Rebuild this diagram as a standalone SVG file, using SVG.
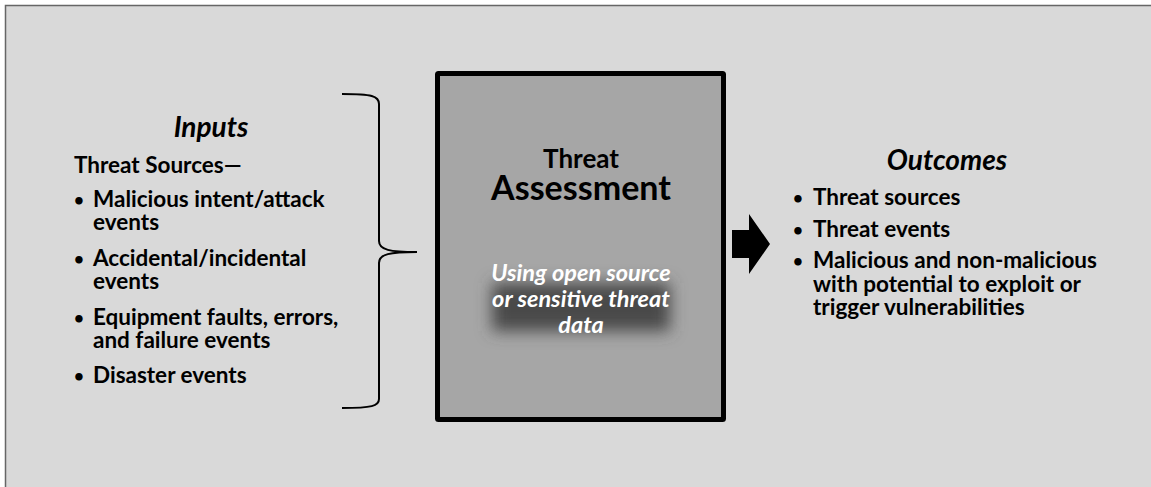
<svg xmlns="http://www.w3.org/2000/svg" width="1151" height="487" viewBox="0 0 1151 487">
  <style>
    text { font-family: Lato, "Liberation Sans", sans-serif; font-weight: bold; fill: #000; }
    .head { font-size: 28px; font-style: italic; text-anchor: middle; }
    .item { font-size: 22.5px; }
    .dot { font-size: 17px; }
    .title { text-anchor: middle; }
    .note { font-size: 23.5px; font-style: italic; fill: #fff; text-anchor: middle; }
    .brace { fill: none; stroke: #000; stroke-width: 2; }
  </style>
  <defs>
    <filter id="glow" x="-30%" y="-60%" width="160%" height="220%">
      <feGaussianBlur stdDeviation="8"/>
    </filter>
  </defs>

  <!-- page background -->
  <rect x="0" y="0" width="1151" height="487" fill="#fff"/>
  <rect x="5.5" y="5.5" width="1160" height="500" fill="#d9d9d9" stroke="#666" stroke-width="1.5"/>

  <!-- inputs list -->
  <g id="inputs">
    <text class="head" x="211" y="137">Inputs</text>
    <text class="item" x="74" y="173">Threat Sources—</text>
    <text class="dot" x="74" y="206">•</text>
    <text class="item" y="207"><tspan x="93">Malicious intent/attack</tspan><tspan x="93" dy="23">events</tspan></text>
    <text class="dot" x="74" y="265">•</text>
    <text class="item" y="266"><tspan x="93">Accidental/incidental</tspan><tspan x="93" dy="23">events</tspan></text>
    <text class="dot" x="74" y="324">•</text>
    <text class="item" y="325"><tspan x="93">Equipment faults, errors,</tspan><tspan x="93" dy="23">and failure events</tspan></text>
    <text class="dot" x="74" y="382">•</text>
    <text class="item" x="93" y="383">Disaster events</text>
  </g>

  <!-- central assessment box -->
  <g id="assessment">
    <rect x="437.5" y="73.5" width="286" height="346" fill="#a6a6a6" stroke="#000" stroke-width="5" rx="1"/>
    <text class="title" x="581" y="168"><tspan font-size="26">Threat</tspan><tspan x="581" dy="32" font-size="34">Assessment</tspan></text>
    <rect x="492" y="283" width="178" height="48" fill="#4a4a4a" filter="url(#glow)"/>
    <text class="note" y="281"><tspan x="581">Using open source</tspan><tspan x="581" dy="26">or sensitive threat</tspan><tspan x="581" dy="26">data</tspan></text>
  </g>

  <!-- outcomes list -->
  <g id="outcomes">
    <text class="head" x="947" y="170">Outcomes</text>
    <text class="dot" x="793" y="204">•</text>
    <text class="item" x="813" y="205">Threat sources</text>
    <text class="dot" x="793" y="236">•</text>
    <text class="item" x="813" y="237">Threat events</text>
    <text class="dot" x="793" y="267">•</text>
    <text class="item" y="268"><tspan x="813">Malicious and non-malicious</tspan><tspan x="813" dy="23.5">with potential to exploit or</tspan><tspan x="813" dy="23.5">trigger vulnerabilities</tspan></text>
  </g>

  <!-- connectors -->
  <g id="connectors">
    <path class="brace" d="M342,94 C372,94 379,96 379,104 L379,241 C379,250 390,252 417,252 C390,252 379,254 379,263 L379,399 C379,406 372,408 342,408"/>
    <path d="M732,230 H749 V214 L770,244 L749,274 V258 H732 Z" fill="#000"/>
  </g>
</svg>
